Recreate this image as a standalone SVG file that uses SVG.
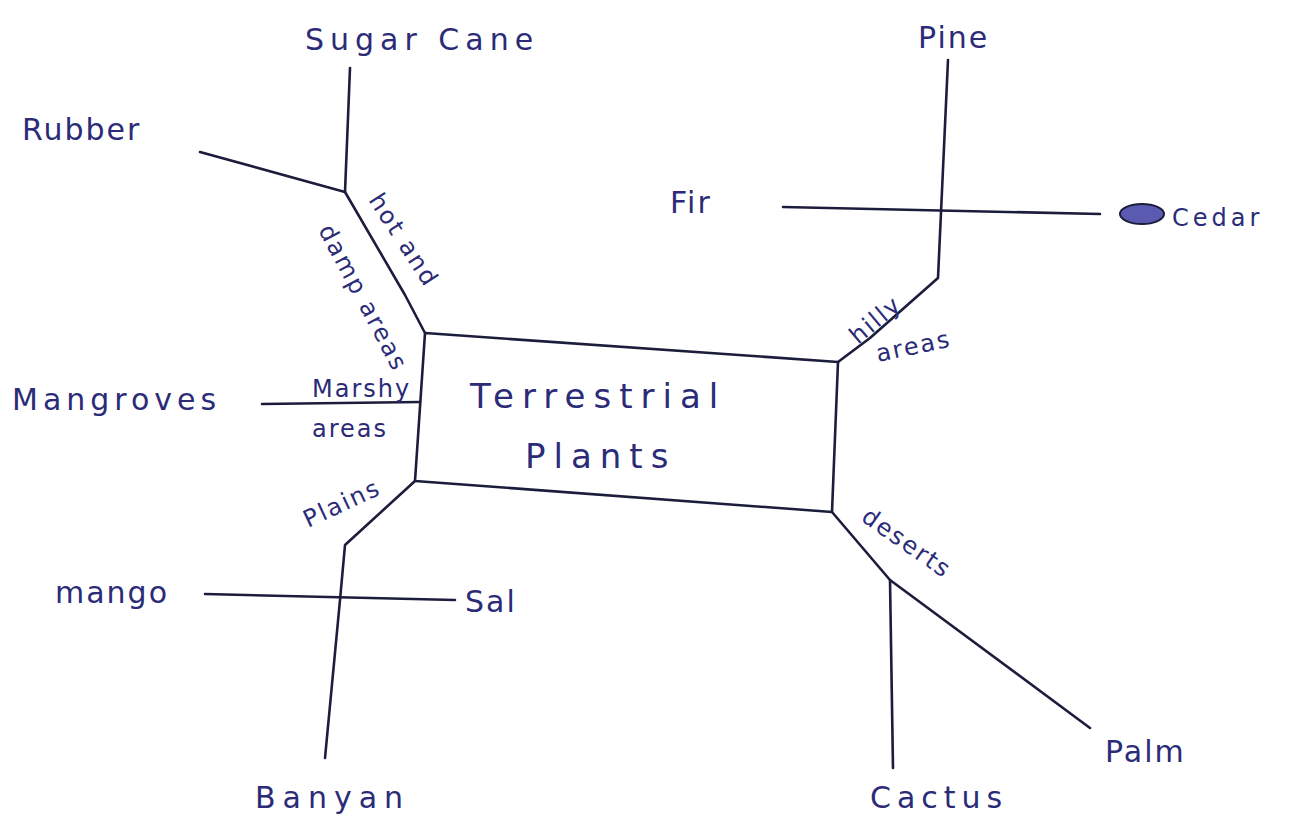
<svg xmlns="http://www.w3.org/2000/svg" width="1289" height="823" viewBox="0 0 1289 823">
<style>
.ln{fill:none;stroke:#1c1c3c;stroke-width:2.6;stroke-linecap:round;stroke-linejoin:round}
.t{font-family:"DejaVu Sans","Liberation Sans",sans-serif;fill:#2b2b78;font-size:30px;letter-spacing:2px}
.s{font-size:24px}
.w{letter-spacing:6px}
.c{font-size:34px;letter-spacing:8px}
</style>
<rect width="1289" height="823" fill="#ffffff"/>
<g id="connectors">
<path class="ln" d="M425,333 L838,362 L832,512 L415,481 Z"/>
<path class="ln" d="M425,333 L405,295 L345,192"/>
<path class="ln" d="M345,192 L350,68"/>
<path class="ln" d="M345,192 L200,152"/>
<path class="ln" d="M420,402 L262,404"/>
<path class="ln" d="M415,481 L345,545 L340,600 L325,758"/>
<path class="ln" d="M205,594 L455,600"/>
<path class="ln" d="M838,362 L870,338 L938,278 L948,60"/>
<path class="ln" d="M783,207 L1100,214"/>
<path class="ln" d="M832,512 L890,580 L1090,728"/>
<path class="ln" d="M890,580 L893,768"/>
</g>
<g id="center"><text class="t c" x="470" y="408">Terrestrial</text><text class="t c" x="525" y="468">Plants</text></g>
<g id="sugarcane"><text class="t w" x="305" y="50">Sugar Cane</text></g>
<g id="rubber"><text class="t" x="22" y="140">Rubber</text></g>
<g id="hotdamp"><text class="t s" transform="translate(368,200) rotate(57)">hot and</text><text class="t s" transform="translate(318,230) rotate(62)">damp areas</text></g>
<g id="marshy"><text class="t s" x="312" y="397">Marshy</text><text class="t s" x="312" y="437">areas</text></g>
<g id="mangroves"><text class="t" x="12" y="410" style="letter-spacing:5px">Mangroves</text></g>
<g id="plains"><text class="t s" transform="translate(308,528) rotate(-25)">Plains</text></g>
<g id="mango"><text class="t" x="55" y="603">mango</text></g>
<g id="sal"><text class="t" x="465" y="612">Sal</text></g>
<g id="banyan"><text class="t" x="255" y="808" style="letter-spacing:7px">Banyan</text></g>
<g id="pine"><text class="t" x="918" y="48">Pine</text></g>
<g id="fir"><text class="t" x="670" y="213">Fir</text></g>
<g id="cedar"><ellipse cx="1142" cy="214" rx="22" ry="10" fill="#5a5ab0" stroke="#1c1c3c" stroke-width="2"/><text class="t s" x="1172" y="226" style="letter-spacing:4px">Cedar</text></g>
<g id="hilly"><text class="t s" transform="translate(858,345) rotate(-40)">hilly</text><text class="t s" transform="translate(878,362) rotate(-12)">areas</text></g>
<g id="deserts"><text class="t s" transform="translate(860,520) rotate(35)">deserts</text></g>
<g id="cactus"><text class="t w" x="870" y="808">Cactus</text></g>
<g id="palm"><text class="t" x="1105" y="762">Palm</text></g>
</svg>
